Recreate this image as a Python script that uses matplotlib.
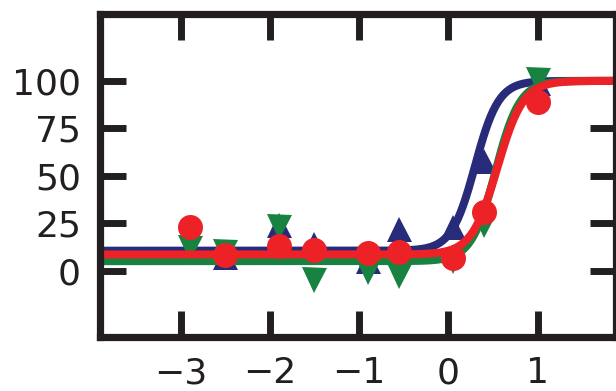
import numpy as np
import matplotlib
matplotlib.use("Agg")
import matplotlib.pyplot as plt

# Measured responses (%) at each log concentration
log_conc = [-2.9, -2.5, -1.9, -1.5, -0.9, -0.55, 0.05, 0.4, 1.0]
navy_resp = [12, 7, 24, 14, 5, 22, 23, 58, 99]
green_resp = [12, 10, 23, -5, -0.5, -3, 5, 24, 100.5]
red_resp = [23, 8, 13, 11, 9.5, 10, 6.5, 31, 89]

# Four-parameter logistic fit parameters: bottom, top, logEC50, Hill slope
navy_fit = [10.5, 100, 0.30, 3.3]
green_fit = [5.0, 100, 0.53, 3.2]
red_fit = [8.5, 100, 0.55, 3.0]

series_colors = ["#282b79", "#188241", "#ec2227"]
series_markers = ["^", "v", "o"]

x_ticks = [-3, -2, -1, 0, 1]
y_ticks = [0, 25, 50, 75, 100]


def logistic(x, bottom, top, ec50, hill):
    return bottom + (top - bottom) / (1 + 10 ** ((ec50 - x) * hill))


fig = plt.figure(figsize=(6.16, 3.91), dpi=100)
ax = fig.add_axes([0.163, 0.138, 0.837, 0.825])

xs = np.linspace(-3.9, 1.9, 400)
for resp, fit, col, mk in zip([navy_resp, green_resp, red_resp],
                              [navy_fit, green_fit, red_fit],
                              series_colors, series_markers):
    ax.plot(xs, logistic(xs, *fit), color=col, lw=5.8, solid_capstyle="butt")
    ax.plot(log_conc, resp, linestyle="none", marker=mk, color=col,
            markersize=18, markeredgewidth=0)

ax.set_xlim(-3.9, 1.88)
ax.set_ylim(-35, 135)
ax.set_xticks(x_ticks)
ax.set_yticks(y_ticks)
ax.set_xticklabels(["\u22123", "\u22122", "\u22121", "0", "1"])

for sp in ax.spines.values():
    sp.set_linewidth(5.2)
    sp.set_color("#231f20")
ax.tick_params(direction="in", length=19, width=5, color="#231f20",
               labelsize=26, labelcolor="#231f20", pad=14,
               top=True, right=True)

fig.savefig("out.png", dpi=100)
